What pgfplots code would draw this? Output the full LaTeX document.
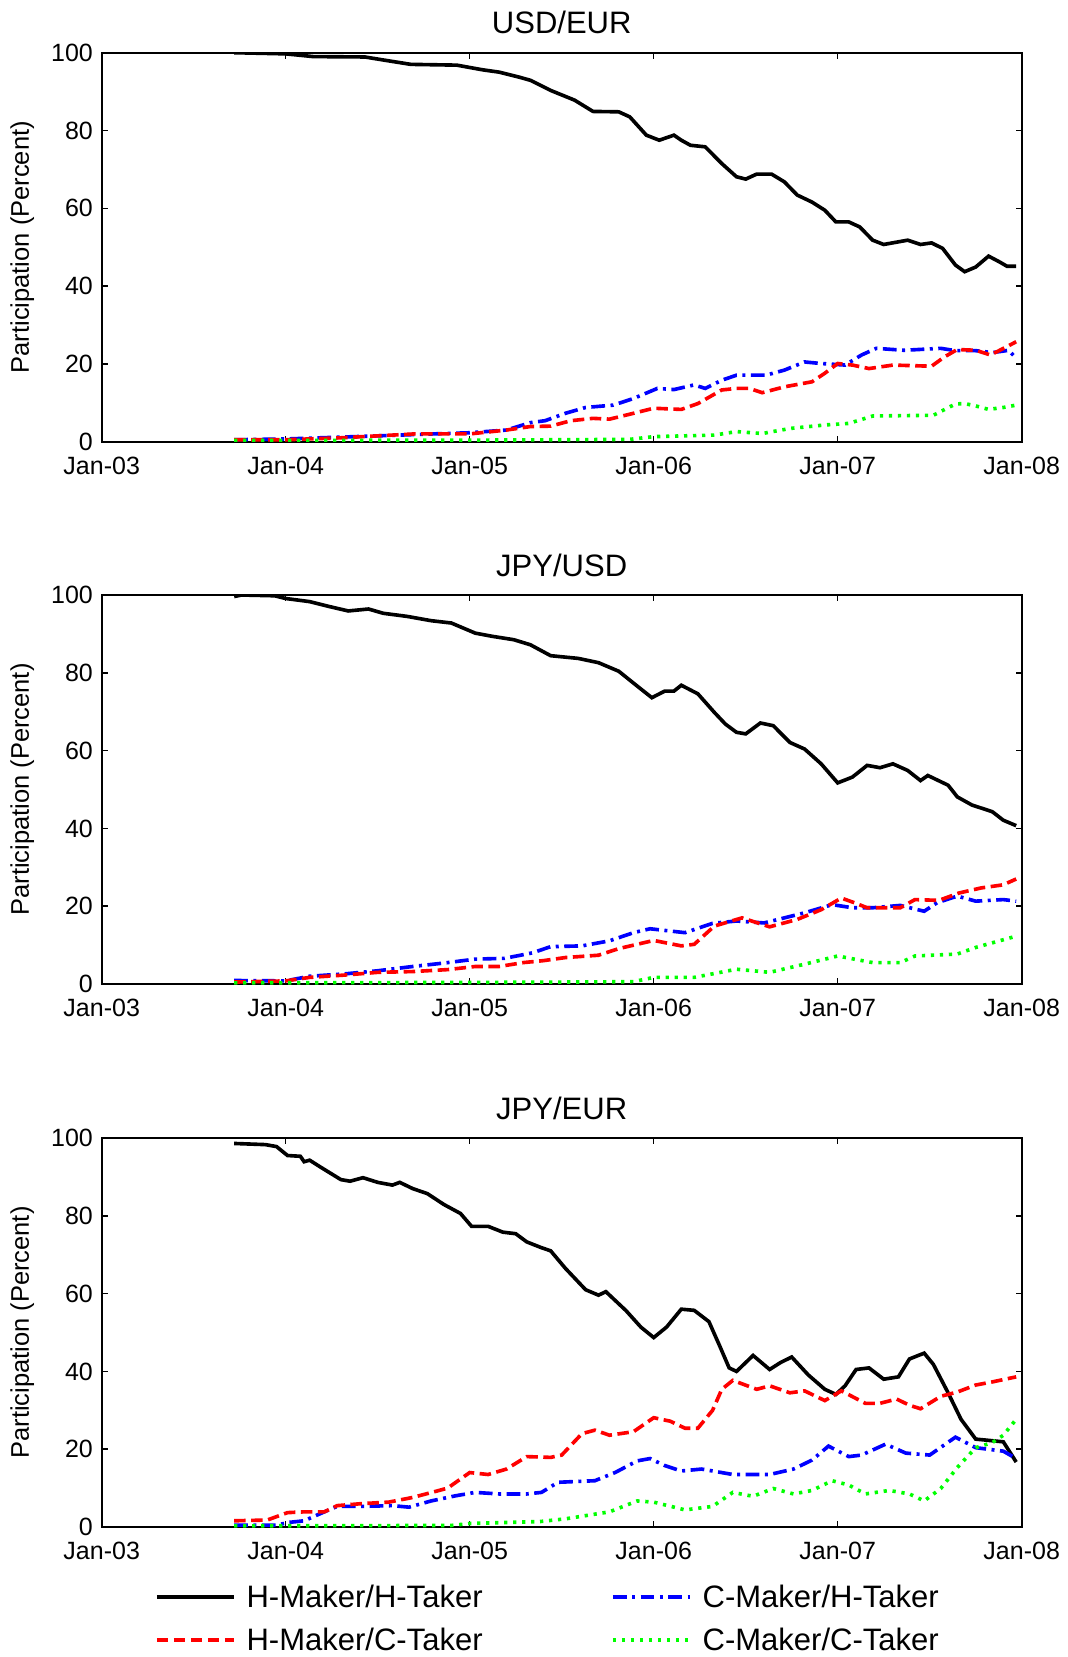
\documentclass[border=0pt]{standalone}
\usepackage{pgfplots}
\pgfplotsset{compat=1.18}
\usepackage{fontspec}
\setmainfont{Liberation Sans}

\tikzset{
  hh/.style={black, line width=1.45pt},
  hc/.style={red, line width=1.45pt, dash pattern=on 4.6pt off 2.2pt},
  ch/.style={blue, line width=1.45pt, dash pattern=on 5.5pt off 2.2pt on 1.2pt off 2.2pt},
  cc/.style={green, line width=1.45pt, dash pattern=on 1.3pt off 2.3pt},
}
\pgfplotsset{
  fxpanel/.style={
    width=368pt, height=155.6pt, scale only axis,
    xmin=2003, xmax=2008, ymin=0, ymax=100,
    xtick={2003,2004,2005,2006,2007,2008},
    xticklabels={Jan-03,Jan-04,Jan-05,Jan-06,Jan-07,Jan-08},
    ytick={0,20,40,60,80,100},
    tick align=inside, major tick length=2.4pt,
    axis line style={line width=0.8pt},
    every tick/.style={black, line width=0.6pt},
    tick label style={font=\fontsize{10}{12}\selectfont},
    /pgf/number format/assume math mode=true,
    xticklabel style={anchor=base, yshift=-13pt},
    ylabel={Participation (Percent)},
    every axis y label/.style={at={(axis description cs:-0.0864,0.5)}, rotate=90,
      anchor=center, font=\fontsize{10.2}{12}\selectfont},
    every axis title/.style={at={(axis description cs:0.5,1)}, anchor=base, yshift=7.5pt,
      font=\fontsize{12.4}{15}\selectfont},
  },
}

\begin{document}
\begin{tikzpicture}
\useasboundingbox (0,0) rectangle (426.8pt,-662.8pt);

% USD/EUR
\begin{axis}[fxpanel, at={(40.68pt,-21.08pt)}, anchor=north west, title={USD/EUR}]
\addplot[hh] coordinates {(2003.72,100) (2004.0,99.7) (2004.15,99) (2004.43,98.9) (2004.56,97.9) (2004.68,97) (2004.93,96.8) (2005.07,95.6) (2005.16,95) (2005.27,93.7) (2005.33,92.9) (2005.44,90.3) (2005.57,87.8) (2005.67,84.9) (2005.81,84.8) (2005.87,83.5) (2005.96,78.8) (2006.03,77.5) (2006.11,78.8) (2006.15,77.5) (2006.20,76.2) (2006.28,75.8) (2006.37,71.5) (2006.45,68.1) (2006.50,67.5) (2006.56,68.8) (2006.64,68.8) (2006.71,66.8) (2006.78,63.4) (2006.86,61.6) (2006.93,59.5) (2006.99,56.5) (2007.06,56.5) (2007.12,55.2) (2007.19,51.8) (2007.25,50.7) (2007.38,51.8) (2007.45,50.7) (2007.51,51.1) (2007.57,49.7) (2007.64,45.4) (2007.69,43.7) (2007.75,44.9) (2007.82,47.7) (2007.88,46.2) (2007.92,45.1) (2007.97,45.1)};
\addplot[ch] coordinates {(2003.72,0.5) (2004.0,0.7) (2004.5,1.5) (2004.8,2.0) (2005.0,2.3) (2005.2,3.0) (2005.33,4.9) (2005.41,5.4) (2005.52,7.3) (2005.63,8.8) (2005.78,9.4) (2005.89,11.1) (2006.02,13.7) (2006.11,13.4) (2006.22,14.6) (2006.28,13.7) (2006.37,15.8) (2006.45,17.1) (2006.61,17.1) (2006.71,18.4) (2006.82,20.5) (2006.91,20.1) (2007.04,19.7) (2007.13,22.3) (2007.21,24.0) (2007.36,23.5) (2007.56,24.0) (2007.64,23.4) (2007.75,23.4) (2007.84,22.9) (2007.93,23.5) (2007.97,21.4)};
\addplot[hc] coordinates {(2003.72,0.5) (2004.0,0.5) (2004.3,1.0) (2004.5,1.5) (2004.7,2.0) (2005.0,2.0) (2005.2,3.0) (2005.33,3.9) (2005.44,4.0) (2005.55,5.4) (2005.67,6.0) (2005.76,5.8) (2005.89,7.3) (2006.0,8.6) (2006.15,8.3) (2006.24,9.8) (2006.37,13.3) (2006.45,13.7) (2006.52,13.7) (2006.59,12.6) (2006.71,14.1) (2006.86,15.4) (2006.93,17.6) (2007.0,20.1) (2007.08,19.7) (2007.17,18.8) (2007.30,19.7) (2007.51,19.4) (2007.58,21.8) (2007.65,23.7) (2007.75,23.5) (2007.83,22.3) (2007.91,24.2) (2007.97,25.7)};
\addplot[cc] coordinates {(2003.72,0.3) (2005.0,0.4) (2005.5,0.5) (2005.87,0.6) (2006.0,1.3) (2006.33,1.7) (2006.45,2.6) (2006.59,2.1) (2006.74,3.4) (2006.93,4.3) (2007.06,4.7) (2007.19,6.6) (2007.52,6.8) (2007.64,9.7) (2007.69,9.8) (2007.75,9.2) (2007.82,8.3) (2007.90,8.8) (2007.97,9.4)};
\end{axis}

% JPY/USD
\begin{axis}[fxpanel, at={(40.68pt,-238pt)}, anchor=north west, title={JPY/USD}]
\addplot[hh] coordinates {(2003.72,99.6) (2003.76,100) (2003.94,99.8) (2004.0,99.1) (2004.13,98.3) (2004.24,97.0) (2004.34,95.9) (2004.45,96.4) (2004.53,95.3) (2004.66,94.5) (2004.79,93.4) (2004.90,92.8) (2005.03,90.2) (2005.12,89.4) (2005.24,88.5) (2005.33,87.2) (2005.44,84.4) (2005.59,83.7) (2005.70,82.6) (2005.81,80.4) (2005.91,76.6) (2005.99,73.6) (2006.06,75.3) (2006.11,75.3) (2006.15,76.8) (2006.24,74.6) (2006.33,69.8) (2006.39,66.8) (2006.45,64.7) (2006.50,64.3) (2006.58,67.1) (2006.65,66.4) (2006.74,62.1) (2006.82,60.4) (2006.91,56.6) (2007.0,51.7) (2007.08,53.2) (2007.16,56.2) (2007.23,55.6) (2007.30,56.6) (2007.38,54.9) (2007.45,52.3) (2007.49,53.6) (2007.60,51.1) (2007.65,48.1) (2007.73,46.0) (2007.84,44.3) (2007.90,42.1) (2007.97,40.7)};
\addplot[ch] coordinates {(2003.72,0.9) (2004.0,0.8) (2004.13,2.0) (2004.32,2.6) (2004.50,3.4) (2004.69,4.5) (2004.88,5.5) (2005.03,6.4) (2005.19,6.6) (2005.34,8.0) (2005.44,9.6) (2005.61,9.8) (2005.76,11.1) (2005.89,13.2) (2005.98,14.2) (2006.17,13.2) (2006.32,15.6) (2006.45,16.2) (2006.60,15.7) (2006.71,17.0) (2006.82,18.3) (2006.97,20.4) (2007.08,19.6) (2007.19,19.6) (2007.34,20.2) (2007.47,18.7) (2007.54,20.9) (2007.65,22.6) (2007.75,21.3) (2007.90,21.7) (2007.97,21.3)};
\addplot[hc] coordinates {(2003.72,0.5) (2004.0,0.8) (2004.13,1.7) (2004.32,2.3) (2004.50,3.0) (2004.69,3.2) (2004.88,3.7) (2005.03,4.5) (2005.16,4.5) (2005.29,5.5) (2005.40,6.0) (2005.52,6.8) (2005.70,7.4) (2005.81,9.1) (2006.0,11.2) (2006.15,9.8) (2006.22,10.2) (2006.33,14.9) (2006.48,17.0) (2006.63,14.7) (2006.78,16.6) (2006.91,19.1) (2007.02,22.1) (2007.09,20.9) (2007.16,19.6) (2007.34,19.6) (2007.42,21.7) (2007.55,21.5) (2007.66,23.4) (2007.78,24.7) (2007.90,25.5) (2007.97,27.0)};
\addplot[cc] coordinates {(2003.72,0.3) (2005.0,0.4) (2005.5,0.5) (2005.89,0.6) (2006.0,1.7) (2006.22,1.7) (2006.45,3.8) (2006.63,3.0) (2006.82,5.1) (2007.0,7.2) (2007.19,5.5) (2007.34,5.5) (2007.42,7.2) (2007.65,7.7) (2007.75,9.4) (2007.97,12.3)};
\end{axis}

% JPY/EUR
\begin{axis}[fxpanel, at={(40.68pt,-455.2pt)}, anchor=north west, title={JPY/EUR},
  legend columns=2, legend cell align=left,
  legend image code/.code={\draw[#1] (0pt,0.4pt) -- (30.8pt,0.4pt);},
  legend style={at={(axis description cs:0.0579,-0.150)}, anchor=north west,
    draw=none, fill=none, inner sep=0pt, outer sep=0pt,
    font=\fontsize{12.4}{15}\selectfont,
    nodes={inner sep=0pt, text height=9pt, text depth=1pt},
    row sep=7.2pt, column sep=0pt,
    /tikz/every odd column/.append style={column sep=4.4pt},
    /tikz/every even column/.append style={column sep=51.4pt}},
]
\addplot[hh] coordinates {(2003.72,98.6) (2003.89,98.3) (2003.95,97.8) (2004.01,95.5) (2004.08,95.3) (2004.10,93.9) (2004.13,94.3) (2004.19,92.5) (2004.30,89.3) (2004.35,88.9) (2004.42,89.8) (2004.50,88.6) (2004.58,87.9) (2004.62,88.6) (2004.69,87.0) (2004.77,85.7) (2004.86,82.9) (2004.95,80.6) (2005.01,77.3) (2005.10,77.3) (2005.18,75.8) (2005.25,75.4) (2005.31,73.3) (2005.39,71.8) (2005.44,71.0) (2005.52,66.5) (2005.63,61.0) (2005.70,59.6) (2005.74,60.5) (2005.85,55.6) (2005.93,51.4) (2006.0,48.7) (2006.07,51.4) (2006.15,56.0) (2006.22,55.7) (2006.30,52.8) (2006.36,46.4) (2006.41,40.9) (2006.45,40.0) (2006.54,44.1) (2006.63,40.5) (2006.69,42.3) (2006.75,43.7) (2006.84,39.1) (2006.93,35.4) (2006.99,34.1) (2007.04,36.3) (2007.10,40.5) (2007.17,40.9) (2007.25,38.0) (2007.33,38.6) (2007.39,43.2) (2007.47,44.7) (2007.52,41.8) (2007.60,34.5) (2007.67,27.7) (2007.75,22.6) (2007.90,21.9) (2007.97,16.7)};
\addlegendentry{H-Maker/H-Taker}
\addplot[ch] coordinates {(2003.72,0.5) (2003.95,0.5) (2004.02,1.2) (2004.10,1.6) (2004.21,3.9) (2004.28,5.3) (2004.41,5.3) (2004.58,5.5) (2004.67,5.1) (2004.79,6.7) (2004.92,8.0) (2005.03,8.9) (2005.16,8.5) (2005.31,8.5) (2005.39,8.9) (2005.48,11.5) (2005.68,11.9) (2005.79,14.0) (2005.91,17.0) (2005.98,17.6) (2006.06,15.8) (2006.15,14.4) (2006.26,14.9) (2006.43,13.5) (2006.63,13.5) (2006.76,14.9) (2006.86,17.2) (2006.95,20.8) (2007.06,18.1) (2007.13,18.5) (2007.26,21.3) (2007.37,19.0) (2007.50,18.5) (2007.64,23.1) (2007.75,20.4) (2007.90,19.5) (2007.97,17.6)};
\addlegendentry{C-Maker/H-Taker}
\addplot[hc] coordinates {(2003.72,1.6) (2003.90,1.8) (2004.01,3.7) (2004.10,3.9) (2004.21,3.9) (2004.28,5.5) (2004.41,6.0) (2004.56,6.4) (2004.69,7.6) (2004.81,9.1) (2004.88,10.0) (2005.0,14.0) (2005.10,13.5) (2005.20,14.9) (2005.31,18.1) (2005.44,17.9) (2005.50,18.5) (2005.61,24.0) (2005.68,24.9) (2005.76,23.6) (2005.89,24.5) (2006.0,28.1) (2006.09,27.2) (2006.17,25.4) (2006.24,25.4) (2006.32,30.0) (2006.37,35.4) (2006.43,37.7) (2006.56,35.4) (2006.63,36.3) (2006.74,34.5) (2006.82,35.0) (2006.93,32.5) (2007.02,35.0) (2007.15,31.8) (2007.23,31.8) (2007.32,32.9) (2007.39,31.3) (2007.45,30.4) (2007.56,33.6) (2007.65,34.7) (2007.75,36.5) (2007.84,37.3) (2007.97,38.6)};
\addlegendentry{H-Maker/C-Taker}
\addplot[cc] coordinates {(2003.72,0.3) (2004.9,0.4) (2005.0,0.9) (2005.38,1.4) (2005.52,2.1) (2005.76,3.9) (2005.91,6.7) (2006.0,6.4) (2006.17,4.4) (2006.32,5.3) (2006.43,8.9) (2006.54,7.9) (2006.65,9.9) (2006.76,8.5) (2006.86,9.4) (2006.97,11.9) (2007.06,10.8) (2007.15,8.5) (2007.28,9.4) (2007.39,8.5) (2007.47,6.7) (2007.56,9.9) (2007.65,15.3) (2007.75,20.4) (2007.84,21.7) (2007.90,23.6) (2007.97,27.7)};
\addlegendentry{C-Maker/C-Taker}
\end{axis}
\end{tikzpicture}
\end{document}
